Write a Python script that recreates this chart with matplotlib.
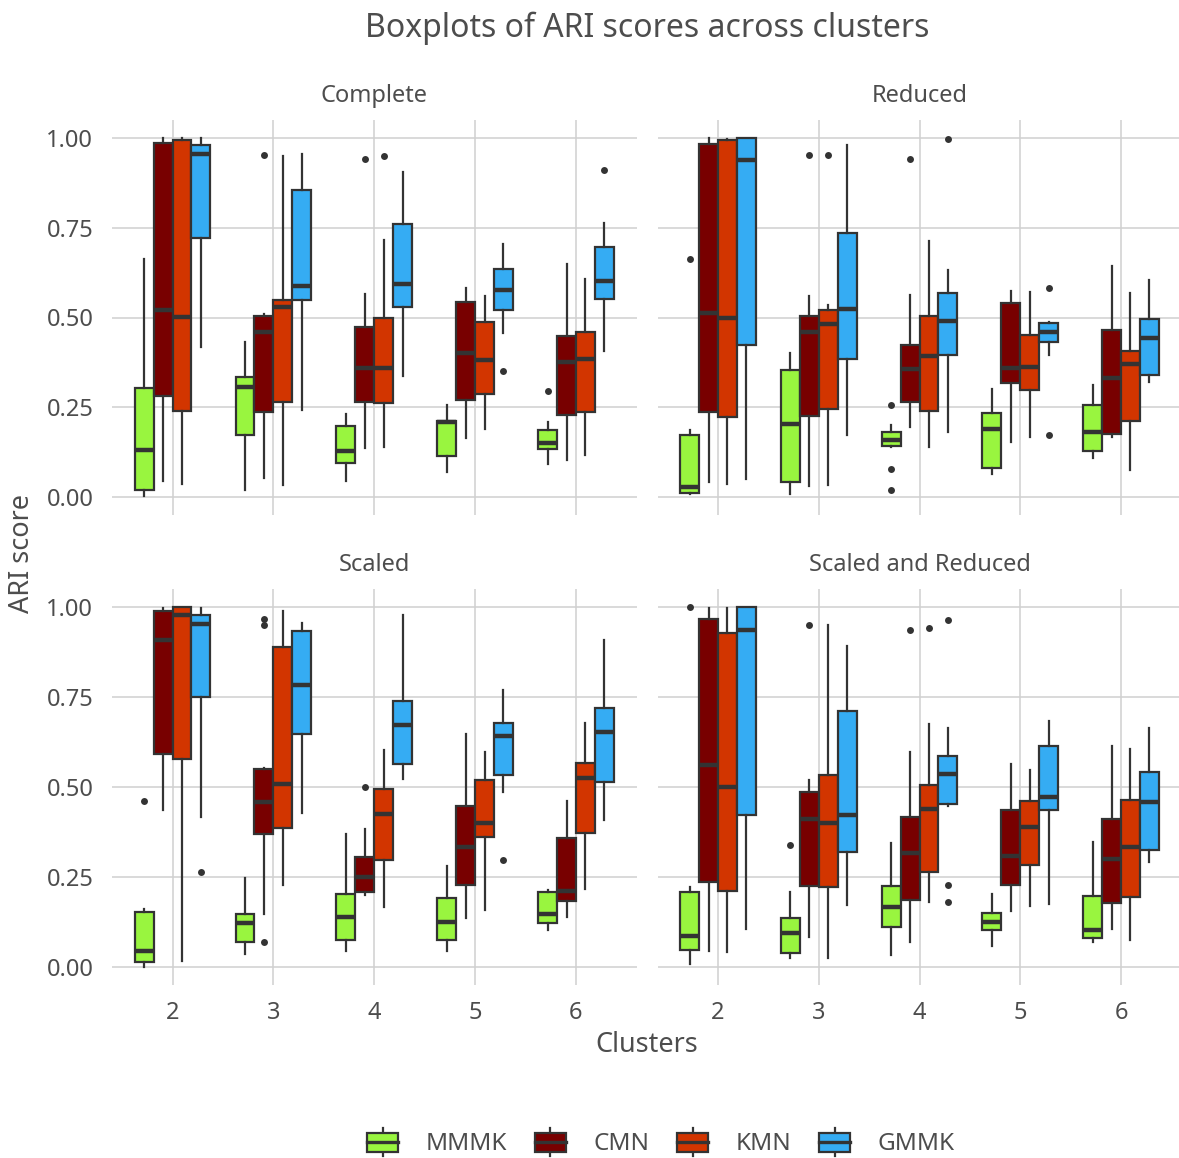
import matplotlib
matplotlib.use("Agg")
import matplotlib.pyplot as plt
from matplotlib.patches import Patch, Rectangle
from matplotlib.lines import Line2D
from matplotlib.legend_handler import HandlerBase

plt.rcParams["font.family"] = ["Noto Sans", "DejaVu Sans"]

# ---------------------------------------------------------------------------
# Data: five-number summaries (whisker low, Q1, median, Q3, whisker high)
# per method, one tuple per number of clusters, plus outlying points.
# ---------------------------------------------------------------------------
CLUSTERS = [2, 3, 4, 5, 6]
METHODS = ["MMMK", "CMN", "KMN", "GMMK"]
COLORS = {"MMMK": "#99F53F", "CMN": "#780000", "KMN": "#D23500", "GMMK": "#35ACF3"}
PANELS = ["Complete", "Reduced", "Scaled", "Scaled and Reduced"]

complete_stats = {
    "MMMK": [(0.002, 0.020, 0.132, 0.304, 0.663), (0.020, 0.174, 0.306, 0.334, 0.432),
             (0.046, 0.095, 0.129, 0.197, 0.231), (0.069, 0.115, 0.210, 0.213, 0.256),
             (0.093, 0.134, 0.150, 0.188, 0.209)],
    "CMN": [(0.044, 0.280, 0.520, 0.986, 1.000), (0.053, 0.237, 0.460, 0.505, 0.511),
            (0.136, 0.266, 0.359, 0.473, 0.566), (0.164, 0.271, 0.401, 0.542, 0.582),
            (0.102, 0.229, 0.376, 0.449, 0.650)],
    "KMN": [(0.036, 0.240, 0.501, 0.993, 1.000), (0.033, 0.266, 0.529, 0.548, 0.951),
            (0.138, 0.262, 0.359, 0.498, 0.717), (0.189, 0.288, 0.383, 0.488, 0.559),
            (0.116, 0.237, 0.384, 0.461, 0.607)],
    "GMMK": [(0.417, 0.721, 0.954, 0.980, 1.000), (0.243, 0.550, 0.587, 0.855, 0.956),
             (0.338, 0.529, 0.593, 0.759, 0.905), (0.457, 0.520, 0.577, 0.635, 0.706),
             (0.408, 0.552, 0.602, 0.695, 0.763)],
}
complete_outliers = [("CMN", 3, 0.952), ("CMN", 4, 0.942), ("KMN", 4, 0.949),
                     ("GMMK", 5, 0.352), ("MMMK", 6, 0.294), ("GMMK", 6, 0.912)]

reduced_stats = {
    "MMMK": [(0.009, 0.012, 0.028, 0.174, 0.188), (0.009, 0.042, 0.204, 0.353, 0.401),
             (0.140, 0.141, 0.158, 0.181, 0.201), (0.065, 0.081, 0.189, 0.234, 0.301),
             (0.109, 0.127, 0.181, 0.255, 0.311)],
    "CMN": [(0.041, 0.236, 0.513, 0.984, 1.000), (0.032, 0.227, 0.459, 0.505, 0.559),
            (0.195, 0.265, 0.357, 0.423, 0.564), (0.152, 0.318, 0.359, 0.539, 0.575),
            (0.167, 0.176, 0.331, 0.464, 0.643)],
    "KMN": [(0.036, 0.222, 0.500, 0.993, 0.998), (0.034, 0.245, 0.481, 0.522, 0.536),
            (0.139, 0.239, 0.392, 0.505, 0.712), (0.166, 0.299, 0.362, 0.452, 0.571),
            (0.074, 0.211, 0.371, 0.407, 0.568)],
    "GMMK": [(0.051, 0.424, 0.938, 1.000, 1.000), (0.174, 0.384, 0.525, 0.734, 0.979),
             (0.181, 0.396, 0.491, 0.568, 0.633), (0.396, 0.432, 0.461, 0.485, 0.487),
             (0.320, 0.339, 0.444, 0.497, 0.605)],
}
reduced_outliers = [("MMMK", 2, 0.663), ("CMN", 3, 0.952), ("KMN", 3, 0.952),
                    ("MMMK", 4, 0.255), ("MMMK", 4, 0.077), ("MMMK", 4, 0.019),
                    ("CMN", 4, 0.942), ("GMMK", 4, 0.998),
                    ("GMMK", 5, 0.582), ("GMMK", 5, 0.173)]

scaled_stats = {
    "MMMK": [(0.001, 0.015, 0.044, 0.153, 0.160), (0.036, 0.070, 0.123, 0.146, 0.247),
             (0.044, 0.075, 0.140, 0.203, 0.369), (0.044, 0.075, 0.126, 0.193, 0.281),
             (0.103, 0.121, 0.146, 0.207, 0.214)],
    "CMN": [(0.435, 0.591, 0.907, 0.990, 0.997), (0.147, 0.369, 0.459, 0.550, 0.554),
            (0.200, 0.209, 0.249, 0.305, 0.384), (0.135, 0.227, 0.333, 0.446, 0.646),
            (0.140, 0.182, 0.212, 0.357, 0.462)],
    "KMN": [(0.018, 0.577, 0.978, 1.000, 1.000), (0.228, 0.387, 0.509, 0.889, 0.990),
            (0.168, 0.296, 0.424, 0.494, 0.603), (0.158, 0.361, 0.399, 0.520, 0.598),
            (0.218, 0.372, 0.525, 0.566, 0.679)],
    "GMMK": [(0.416, 0.750, 0.952, 0.978, 0.997), (0.429, 0.647, 0.784, 0.932, 0.956),
             (0.523, 0.564, 0.673, 0.738, 0.979), (0.487, 0.532, 0.642, 0.677, 0.770),
             (0.409, 0.513, 0.654, 0.720, 0.909)],
}
scaled_outliers = [("MMMK", 2, 0.460), ("GMMK", 2, 0.265), ("CMN", 3, 0.968),
                   ("CMN", 3, 0.951), ("CMN", 3, 0.070), ("CMN", 4, 0.499),
                   ("GMMK", 5, 0.297)]

scaled_reduced_stats = {
    "MMMK": [(0.008, 0.047, 0.086, 0.208, 0.223), (0.024, 0.038, 0.095, 0.137, 0.208),
             (0.033, 0.112, 0.166, 0.225, 0.344), (0.058, 0.103, 0.126, 0.149, 0.202),
             (0.070, 0.080, 0.103, 0.197, 0.347)],
    "CMN": [(0.045, 0.237, 0.562, 0.968, 0.997), (0.082, 0.226, 0.411, 0.487, 0.520),
            (0.070, 0.186, 0.316, 0.416, 0.597), (0.156, 0.227, 0.309, 0.437, 0.564),
            (0.105, 0.177, 0.299, 0.411, 0.615)],
    "KMN": [(0.043, 0.212, 0.500, 0.928, 0.997), (0.024, 0.222, 0.401, 0.534, 0.949),
            (0.180, 0.263, 0.438, 0.506, 0.676), (0.170, 0.284, 0.388, 0.461, 0.548),
            (0.075, 0.194, 0.332, 0.464, 0.605)],
    "GMMK": [(0.106, 0.423, 0.937, 1.000, 1.000), (0.172, 0.319, 0.421, 0.712, 0.891),
             (0.448, 0.453, 0.537, 0.585, 0.664), (0.175, 0.435, 0.472, 0.613, 0.684),
             (0.293, 0.325, 0.459, 0.541, 0.664)],
}
scaled_reduced_outliers = [("MMMK", 2, 1.000), ("MMMK", 3, 0.339), ("CMN", 3, 0.951),
                           ("CMN", 4, 0.935), ("KMN", 4, 0.942), ("GMMK", 4, 0.963),
                           ("GMMK", 4, 0.227), ("GMMK", 4, 0.180)]

Y_TICKS = [0.0, 0.25, 0.5, 0.75, 1.0]
Y_TICK_LABELS = ["0.00", "0.25", "0.50", "0.75", "1.00"]

# ---------------------------------------------------------------------------
W, H = 1179, 1158
fig = plt.figure(figsize=(W / 100, H / 100), dpi=100)
fig.patch.set_facecolor("white")

TEXT = "#4d4d4d"
EDGE = "#333333"
GRID = "#d0d0d0"
DODGE = 0.75
BOX_W = DODGE / len(METHODS)
SMALL = 17


def px_axes(left, top, right, bottom):
    return fig.add_axes([left / W, 1 - bottom / H, (right - left) / W, (bottom - top) / H])


def draw_panel(ax, title, stats, outliers, show_x, show_y):
    for i, method in enumerate(METHODS):
        offset = -DODGE / 2 + BOX_W * (i + 0.5)
        boxes = []
        for c, (lo, q1, med, q3, hi) in zip(CLUSTERS, stats[method]):
            fl = [v for (m, k, v) in outliers if m == method and k == c]
            boxes.append(dict(whislo=lo, q1=q1, med=med, q3=q3, whishi=hi, fliers=fl))
        ax.bxp(boxes, positions=[c + offset for c in CLUSTERS], widths=BOX_W,
               patch_artist=True, showcaps=False, manage_ticks=False,
               boxprops=dict(facecolor=COLORS[method], edgecolor=EDGE, linewidth=1.6),
               medianprops=dict(color=EDGE, linewidth=3.2, solid_capstyle="butt"),
               whiskerprops=dict(color=EDGE, linewidth=1.6),
               flierprops=dict(marker="o", markerfacecolor=EDGE, markeredgecolor="none",
                               markersize=5))
    ax.set_xlim(1.4, 6.6)
    ax.set_ylim(-0.05, 1.05)
    ax.set_xticks(CLUSTERS)
    ax.set_yticks(Y_TICKS)
    ax.set_xticklabels([str(c) for c in CLUSTERS] if show_x else [])
    ax.set_yticklabels(Y_TICK_LABELS if show_y else [])
    ax.tick_params(length=0, labelsize=SMALL, labelcolor=TEXT)
    ax.tick_params(axis="y", pad=13.5)
    ax.tick_params(axis="x", pad=11.5)
    ax.grid(True, color=GRID, linewidth=1.1)
    ax.set_axisbelow(True)
    for s in ax.spines.values():
        s.set_visible(False)
    ax.set_facecolor("none")
    ax.set_title(title, fontsize=SMALL, color=TEXT, pad=13)


ax_tl = px_axes(112, 120, 636.5, 515)
ax_tr = px_axes(657.5, 120, 1181.5, 515)
ax_bl = px_axes(112, 589, 636.5, 985)
ax_br = px_axes(657.5, 589, 1181.5, 985)

draw_panel(ax_tl, PANELS[0], complete_stats, complete_outliers, False, True)
draw_panel(ax_tr, PANELS[1], reduced_stats, reduced_outliers, False, False)
draw_panel(ax_bl, PANELS[2], scaled_stats, scaled_outliers, True, True)
draw_panel(ax_br, PANELS[3], scaled_reduced_stats, scaled_reduced_outliers, True, False)

fig.text(647 / W, 1 - 28 / H, "Boxplots of ARI scores across clusters",
         ha="center", va="center", fontsize=23, color=TEXT)
fig.text(647 / W, 1 - 1045 / H, "Clusters", ha="center", va="center",
         fontsize=19.5, color=TEXT)
fig.text(22 / W, 1 - 553 / H, "ARI score", ha="center", va="center",
         rotation=90, fontsize=19.5, color=TEXT)


class BoxKeyHandler(HandlerBase):
    """Legend key drawn as a small boxplot glyph."""

    def create_artists(self, legend, orig_handle, xdescent, ydescent, width, height,
                       fontsize, trans):
        x0, y0 = -xdescent, -ydescent
        fc = orig_handle.get_facecolor()
        bx0, bx1 = x0 + 0.06 * width, x0 + 0.94 * width
        by0, by1 = y0 + 0.12 * height, y0 + 0.88 * height
        xm = x0 + width / 2
        rect = Rectangle((bx0, by0), bx1 - bx0, by1 - by0, facecolor=fc,
                         edgecolor=EDGE, linewidth=1.6, transform=trans)
        med = Line2D([bx0, bx1], [(by0 + by1) / 2] * 2, color=EDGE, linewidth=2.4,
                     transform=trans)
        w1 = Line2D([xm, xm], [y0 - 0.05 * height, by0], color=EDGE, linewidth=1.6,
                    transform=trans)
        w2 = Line2D([xm, xm], [by1, y0 + 1.05 * height], color=EDGE, linewidth=1.6,
                    transform=trans)
        return [w1, w2, rect, med]


handles = [Patch(facecolor=COLORS[m]) for m in METHODS]
leg = fig.legend(handles, METHODS, loc="center", bbox_to_anchor=(660 / W, 1 - 1143 / H),
                 ncol=4, frameon=False, fontsize=17.5, handler_map={Patch: BoxKeyHandler()},
                 handlelength=1.45, handleheight=1.2, handletextpad=1.05,
                 columnspacing=1.05)
for t in leg.get_texts():
    t.set_color(TEXT)

fig.savefig("out.png", dpi=100, facecolor="white")
